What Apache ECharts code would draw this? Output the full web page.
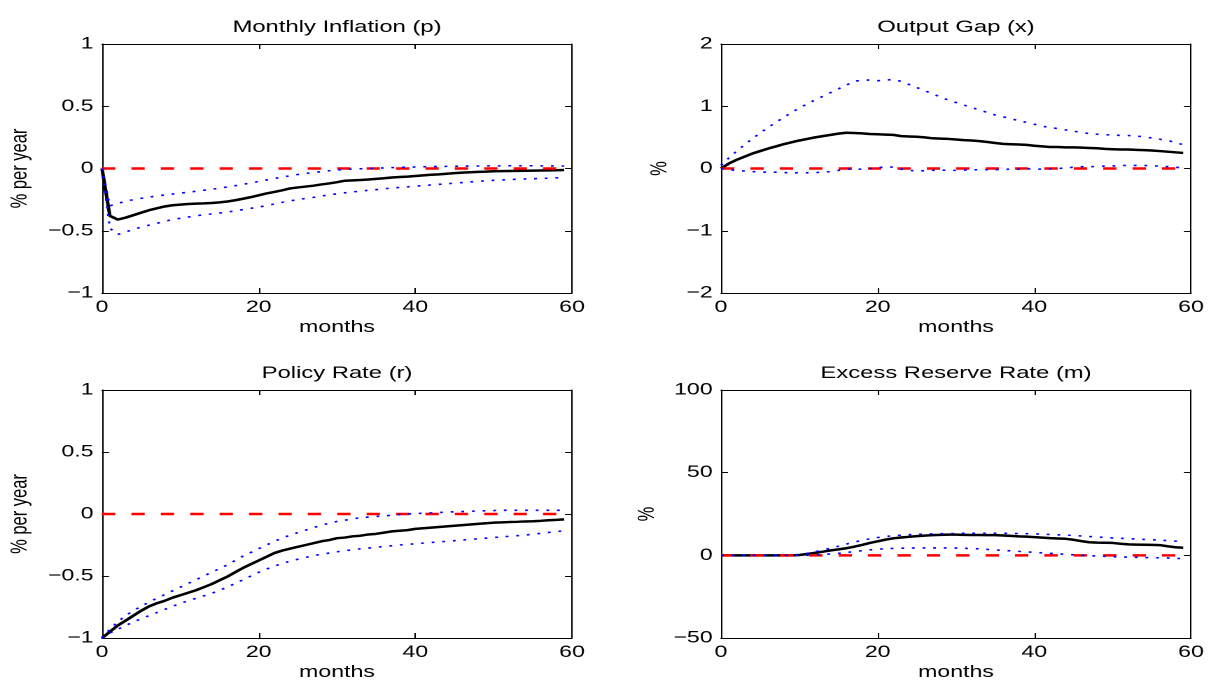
<!DOCTYPE html>
<html>
<head>
<meta charset="utf-8">
<script src="https://cdn.jsdelivr.net/npm/echarts@6/dist/echarts.min.js"></script>
<style>
  html, body { margin: 0; padding: 0; background: #fff; overflow: hidden; }
  #wrap { width: 1208px; height: 682px; overflow: hidden; }
  #chart { height: 682px; transform-origin: 0 0; }
</style>
</head>
<body>
<div id="wrap"><div id="chart"></div></div>
<script>
// ---------- data ----------
const months = [0,1,2,3,4,5,6,7,8,9,10,11,12,13,14,15,16,17,18,19,20,21,22,23,24,25,26,27,28,29,30,31,32,33,34,35,36,37,38,39,40,41,42,43,44,45,46,47,48,49,50,51,52,53,54,55,56,57,58,59];
const zeroRef = [0,0,0,0,0,0,0,0,0,0,0,0,0,0,0,0,0,0,0,0,0,0,0,0,0,0,0,0,0,0,0,0,0,0,0,0,0,0,0,0,0,0,0,0,0,0,0,0,0,0,0,0,0,0,0,0,0,0,0];

const panelTitles = ['Monthly Inflation (p)', 'Output Gap (x)', 'Policy Rate (r)', 'Excess Reserve Rate (m)'];
const yNames = ['% per year', '%', '% per year', '%'];
const xName = 'months';
const xTicks = [0, 20, 40, 60];
const pTicks = [-1, -0.5, 0, 0.5, 1];
const xgTicks = [-2, -1, 0, 1, 2];
const rTicks = [-1, -0.5, 0, 0.5, 1];
const mTicks = [-50, 0, 50, 100];

// Monthly inflation
const pMid = [0,-0.38,-0.41,-0.395,-0.375,-0.355,-0.335,-0.32,-0.305,-0.295,-0.29,-0.285,-0.282,-0.28,-0.277,-0.272,-0.265,-0.255,-0.243,-0.23,-0.215,-0.2,-0.188,-0.175,-0.16,-0.152,-0.145,-0.138,-0.128,-0.12,-0.11,-0.098,-0.095,-0.092,-0.088,-0.083,-0.078,-0.072,-0.068,-0.065,-0.06,-0.055,-0.05,-0.047,-0.042,-0.037,-0.033,-0.03,-0.027,-0.025,-0.022,-0.021,-0.02,-0.019,-0.018,-0.017,-0.016,-0.015,-0.014,-0.012];
const pHi = [0,-0.3,-0.28,-0.265,-0.25,-0.24,-0.23,-0.22,-0.213,-0.205,-0.198,-0.19,-0.183,-0.175,-0.167,-0.158,-0.148,-0.138,-0.128,-0.115,-0.105,-0.092,-0.08,-0.07,-0.058,-0.048,-0.04,-0.032,-0.025,-0.018,-0.012,-0.008,-0.004,-0.002,0,0.002,0.005,0.007,0.009,0.011,0.012,0.014,0.015,0.016,0.017,0.018,0.019,0.02,0.02,0.021,0.021,0.021,0.022,0.022,0.022,0.022,0.021,0.021,0.02,0.02];
const pLo = [0,-0.48,-0.53,-0.51,-0.49,-0.47,-0.455,-0.44,-0.425,-0.41,-0.4,-0.39,-0.38,-0.372,-0.365,-0.358,-0.35,-0.34,-0.33,-0.32,-0.31,-0.298,-0.285,-0.272,-0.26,-0.25,-0.24,-0.232,-0.222,-0.212,-0.203,-0.195,-0.188,-0.182,-0.175,-0.17,-0.163,-0.157,-0.152,-0.147,-0.142,-0.137,-0.132,-0.127,-0.123,-0.118,-0.113,-0.108,-0.103,-0.099,-0.095,-0.092,-0.089,-0.086,-0.084,-0.082,-0.08,-0.078,-0.075,-0.072];

// Output gap
const xMid = [0,0.08,0.14,0.19,0.24,0.28,0.32,0.355,0.39,0.42,0.45,0.475,0.5,0.52,0.54,0.56,0.575,0.57,0.565,0.555,0.55,0.545,0.54,0.52,0.515,0.51,0.5,0.485,0.48,0.475,0.465,0.455,0.45,0.44,0.425,0.41,0.395,0.39,0.385,0.38,0.365,0.355,0.345,0.345,0.34,0.34,0.335,0.33,0.325,0.315,0.31,0.305,0.305,0.3,0.295,0.29,0.28,0.27,0.26,0.25];
const xHi = [0.05,0.17,0.28,0.38,0.48,0.57,0.66,0.74,0.82,0.9,0.97,1.04,1.1,1.16,1.22,1.28,1.34,1.4,1.42,1.42,1.41,1.42,1.43,1.4,1.35,1.3,1.25,1.2,1.15,1.1,1.06,1.02,0.98,0.94,0.9,0.86,0.83,0.8,0.77,0.74,0.71,0.68,0.66,0.64,0.62,0.6,0.58,0.56,0.55,0.54,0.54,0.53,0.53,0.52,0.51,0.49,0.47,0.45,0.42,0.38];
const xLo = [0,-0.02,-0.03,-0.04,-0.05,-0.055,-0.06,-0.06,-0.065,-0.07,-0.07,-0.07,-0.065,-0.06,-0.05,-0.03,-0.01,-0.01,-0.01,0,0.01,0.03,0.02,-0.01,-0.03,-0.04,-0.035,-0.03,-0.025,-0.03,-0.03,-0.025,-0.02,-0.02,-0.02,-0.02,-0.015,-0.01,-0.01,-0.005,-0.01,-0.01,-0.005,0,0.01,0.02,0.03,0.03,0.03,0.04,0.04,0.05,0.05,0.05,0.05,0.04,0.04,0.03,0.02,0.01];

// Policy rate
const rMid = [-1,-0.95,-0.9,-0.86,-0.82,-0.78,-0.745,-0.72,-0.7,-0.675,-0.655,-0.635,-0.615,-0.59,-0.565,-0.535,-0.505,-0.47,-0.435,-0.405,-0.375,-0.345,-0.315,-0.295,-0.28,-0.265,-0.25,-0.235,-0.22,-0.21,-0.195,-0.19,-0.18,-0.175,-0.165,-0.16,-0.15,-0.14,-0.135,-0.13,-0.12,-0.115,-0.11,-0.105,-0.1,-0.095,-0.09,-0.085,-0.08,-0.075,-0.07,-0.068,-0.065,-0.063,-0.06,-0.058,-0.055,-0.05,-0.047,-0.043];
const rHi = [-1,-0.93,-0.87,-0.82,-0.78,-0.745,-0.71,-0.68,-0.65,-0.62,-0.59,-0.56,-0.53,-0.5,-0.47,-0.44,-0.41,-0.375,-0.34,-0.31,-0.28,-0.25,-0.22,-0.195,-0.17,-0.15,-0.13,-0.11,-0.09,-0.075,-0.06,-0.05,-0.04,-0.03,-0.025,-0.02,-0.015,-0.01,-0.005,0,0.003,0.006,0.009,0.012,0.015,0.018,0.02,0.022,0.024,0.026,0.028,0.03,0.03,0.03,0.03,0.03,0.03,0.03,0.03,0.03];
const rLo = [-1,-0.96,-0.93,-0.9,-0.87,-0.845,-0.82,-0.795,-0.77,-0.745,-0.72,-0.7,-0.68,-0.66,-0.64,-0.615,-0.59,-0.56,-0.53,-0.5,-0.47,-0.445,-0.42,-0.4,-0.38,-0.365,-0.35,-0.335,-0.325,-0.315,-0.305,-0.295,-0.29,-0.28,-0.275,-0.268,-0.262,-0.256,-0.25,-0.245,-0.24,-0.235,-0.23,-0.225,-0.22,-0.215,-0.21,-0.205,-0.2,-0.195,-0.19,-0.185,-0.18,-0.175,-0.17,-0.163,-0.156,-0.149,-0.142,-0.135];

// Excess reserve rate
const mMid = [0,0,0,0,0,0,0,0,0,0,0.2,0.8,1.5,2.2,3,3.6,4.3,5.2,6.3,7.5,8.5,9.5,10.3,10.8,11.2,11.6,11.9,12.2,12.4,12.5,12.5,12.4,12.3,12.3,12.2,12.2,12,11.8,11.5,11.3,11,10.7,10.4,10.2,10,9.4,8.6,7.9,7.7,7.6,7.5,7,6.6,6.5,6.4,6.3,6.2,5.5,4.9,4.6];
const mHi = [0,0,0,0,0,0,0,0,0,0,0.5,1.2,2.2,3.2,4.3,5.5,6.8,8,9,10,10.8,11.4,11.9,12.2,12.5,12.7,12.9,13,13.1,13.2,13.2,13.3,13.3,13.3,13.3,13.3,13.3,13.3,13.2,13.1,13,12.8,12.6,12.4,12.2,12,11.7,11.4,11.1,10.8,10.5,10.3,10.1,9.9,9.6,9.4,9.2,8.9,8.6,8.2];
const mLo = [0,0,0,0,0,0,0,0,0,0,0,0,0.2,0.5,0.8,1.2,1.7,2.3,2.8,3.3,3.7,4,4.2,4.3,4.4,4.5,4.5,4.5,4.5,4.5,4.4,4.3,4.1,3.9,3.6,3.3,3,2.7,2.4,2.1,1.8,1.5,1.2,0.9,0.6,0.3,0,-0.2,-0.4,-0.6,-0.8,-1,-1.1,-1.2,-1.3,-1.4,-1.5,-1.6,-1.8,-2];

const panels = [
  { mid: pMid, hi: pHi, lo: pLo, ticks: pTicks },
  { mid: xMid, hi: xHi, lo: xLo, ticks: xgTicks },
  { mid: rMid, hi: rHi, lo: rLo, ticks: rTicks },
  { mid: mMid, hi: mHi, lo: mLo, ticks: mTicks }
];

// ---------- layout (the reference is horizontally stretched) ----------
const S = 1.4;
const el = document.getElementById('chart');
el.style.width = (1208 / S) + 'px';
el.style.transform = 'scaleX(' + S + ')';

const FONT = 'Liberation Sans, Arial, Helvetica, sans-serif';
const gridBoxes = [
  { left: 102, top: 44, width: 470, height: 249 },
  { left: 721, top: 44, width: 470, height: 249 },
  { left: 102, top: 390, width: 470, height: 248 },
  { left: 721, top: 390, width: 470, height: 248 }
];
const yNameGap = [50, 35, 50, 44];
const fmt = v => String(v).replace('-', '\u2212');

const grids = [], xAxes = [], yAxes = [], series = [], titles = [];
gridBoxes.forEach((b, i) => {
  grids.push({ left: b.left / S, top: b.top, width: b.width / S, height: b.height, containLabel: false });
  const line = { show: true, onZero: false, lineStyle: { color: '#000', width: 1 } };
  const tick = { show: true, inside: true, length: 5, lineStyle: { color: '#000', width: 1 } };
  xAxes.push({
    type: 'value', gridIndex: i, position: 'bottom',
    min: xTicks[0], max: xTicks[xTicks.length - 1], interval: xTicks[1] - xTicks[0],
    axisLine: line, axisTick: tick, splitLine: { show: false },
    axisLabel: { color: '#000', fontFamily: FONT, fontSize: 16.5, margin: 6, formatter: fmt },
    name: xName, nameLocation: 'middle', nameGap: 26,
    nameTextStyle: { color: '#000', fontFamily: FONT, fontSize: 16.5 }
  });
  xAxes.push({
    type: 'value', gridIndex: i, position: 'top',
    min: xTicks[0], max: xTicks[xTicks.length - 1], interval: xTicks[1] - xTicks[0],
    axisLine: line, axisTick: tick, splitLine: { show: false }, axisLabel: { show: false }
  });
  const t = panels[i].ticks;
  yAxes.push({
    type: 'value', gridIndex: i, position: 'left',
    min: t[0], max: t[t.length - 1], interval: t[1] - t[0],
    axisLine: line, axisTick: tick, splitLine: { show: false },
    axisLabel: { color: '#000', fontFamily: FONT, fontSize: 16.5, margin: 6, formatter: fmt },
    name: yNames[i], nameLocation: 'middle', nameGap: yNameGap[i],
    nameTextStyle: { color: '#000', fontFamily: FONT, fontSize: 16.5 }
  });
  yAxes.push({
    type: 'value', gridIndex: i, position: 'right',
    min: t[0], max: t[t.length - 1], interval: t[1] - t[0],
    axisLine: line, axisTick: tick, splitLine: { show: false }, axisLabel: { show: false }
  });
  titles.push({
    text: panelTitles[i], left: (b.left + b.width / 2) / S, top: b.top - 25, textAlign: 'center', padding: 0,
    textStyle: { color: '#000', fontFamily: FONT, fontSize: 17, fontWeight: 'normal' }
  });
  const p = panels[i];
  const pair = arr => arr.map((v, k) => [months[k], v]);
  const base = { type: 'line', xAxisIndex: 2 * i, yAxisIndex: 2 * i, symbol: 'none', silent: true, animation: false };
  series.push(Object.assign({}, base, { name: 'mid' + i, data: pair(p.mid), z: 2,
    lineStyle: { color: '#000', width: 2.5, type: 'solid' } }));
  series.push(Object.assign({}, base, { name: 'zero' + i, data: pair(zeroRef), z: 3,
    lineStyle: { color: '#ff0000', width: 2.5, type: [9.5, 11.5], cap: 'butt' } }));
  series.push(Object.assign({}, base, { name: 'hi' + i, data: pair(p.hi), z: 4,
    lineStyle: { color: '#0000ff', width: 1.6, type: [2, 5.6], cap: 'butt' } }));
  series.push(Object.assign({}, base, { name: 'lo' + i, data: pair(p.lo), z: 4,
    lineStyle: { color: '#0000ff', width: 1.6, type: [2, 5.6], cap: 'butt' } }));
});

const chart = echarts.init(el, null, { renderer: 'canvas', devicePixelRatio: 2 });
chart.setOption({
  backgroundColor: '#fff',
  animation: false,
  title: titles,
  grid: grids,
  xAxis: xAxes,
  yAxis: yAxes,
  series: series
});
</script>
</body>
</html>
